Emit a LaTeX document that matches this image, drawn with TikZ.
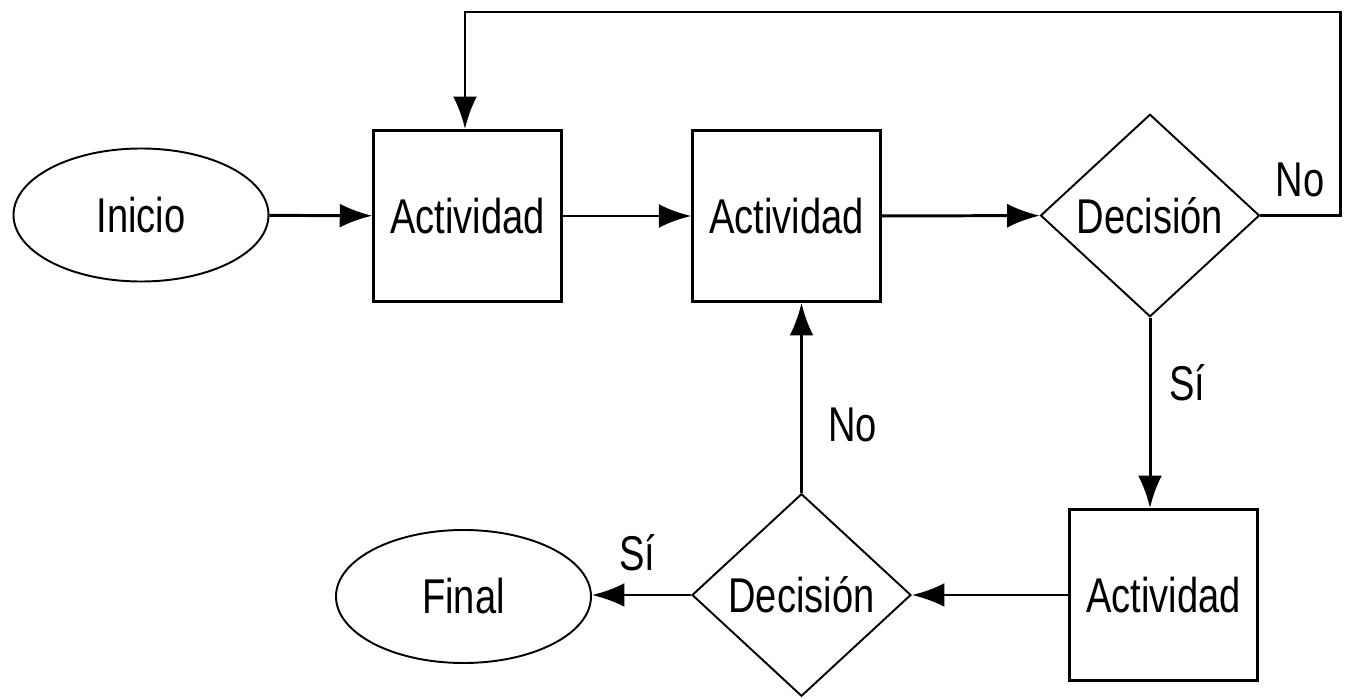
\documentclass[tikz,border=0pt]{standalone}
\usepackage{fontspec}
\newfontfamily\flowfont[FakeStretch=0.78]{Liberation Sans}
\usetikzlibrary{shapes.geometric,arrows.meta,positioning}

\begin{document}
\begin{tikzpicture}
  [-{Latex[length=6.5mm,width=4.8mm]}, line width=1.7pt,
    font=\flowfont\fontsize{27.8}{32}\selectfont,
    terminal/.style={
      ellipse, draw, line width=1.1pt, minimum width=5.1cm, minimum height=2.66cm
    },
    activity/.style={
      rectangle, draw, line width=1.7pt, minimum width=3.75cm, minimum height=3.42cm
    },
    decision/.style={
      diamond, draw, line width=1.1pt, inner sep=0pt,
      minimum width=4.38cm, minimum height=4.05cm
    },
    lbl/.style={font=\flowfont\fontsize{27.8}{32}\selectfont, inner sep=0pt},
  ]
  \useasboundingbox (0,0) rectangle (27.12,13.96);

  \node[terminal] (start) at (2.82,9.66) {Inicio};
  \node[activity] (act1) at (9.35,9.64) {Actividad};
  \node[activity] (act2) at (15.73,9.64) {Actividad};
  \node[decision] (dec1) at (23.0,9.65) {Decisión};
  \node[activity] (act3) at (23.27,2.06) {Actividad};
  \node[decision] (dec2) at (16.03,2.06) {Decisión};
  \node[terminal] (stop) at (9.27,2.03) {Final};

  % Corners of the loop back
  \coordinate (c1) at (26.8,9.65);
  \coordinate (c2) at (26.8,13.72);
  \coordinate (c3) at (9.3,13.72);

  % Main flow
  \draw (start) -- (act1);
  \draw (act1) -- (act2);
  \draw (act2) -- (dec1);
  \draw (dec1.south) -- node[lbl, pos=0.34, right=0.35cm] {Sí} (act3.north -| dec1.south);
  \draw (act3) -- (dec2);
  \draw (dec2.west) -- node[lbl, pos=0.54, above=0.45cm] {Sí} (stop.east |- dec2.west);
  \draw (dec2.north) -- node[lbl, pos=0.36, right=0.5cm] {No} (act2.south -| dec2.north);

  % Loop back to first activity
  \draw (dec1.east) -- node[lbl, midway, above=0.35cm] {No} (c1) -- (c2) -- (c3)
    -- (act1.north -| c3);
\end{tikzpicture}
\end{document}
